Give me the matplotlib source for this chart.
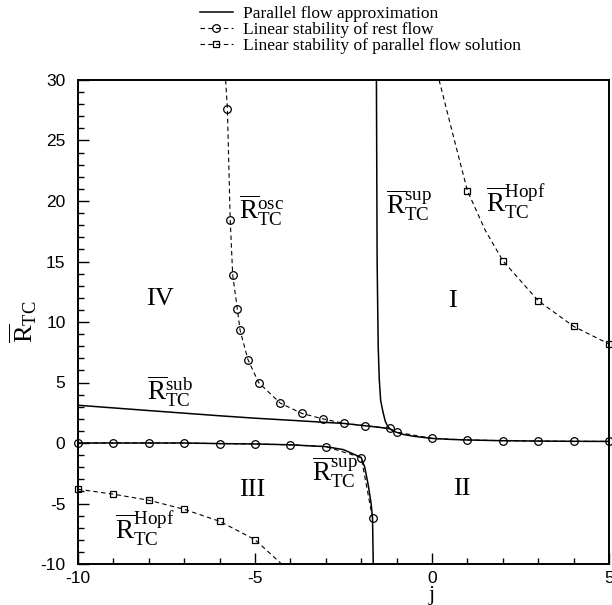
import matplotlib
matplotlib.use("Agg")
import matplotlib.pyplot as plt
from matplotlib.lines import Line2D
from matplotlib.legend_handler import HandlerLine2D
from matplotlib.ticker import MultipleLocator

plt.rcParams['mathtext.fontset'] = 'custom'
plt.rcParams['mathtext.rm'] = 'Liberation Serif'
plt.rcParams['mathtext.it'] = 'Liberation Serif:italic'
plt.rcParams['axes.unicode_minus'] = False

# parallel flow approximation (solid)
sub_j = [-10, -8, -6, -5, -4, -3, -2.5, -2, -1.5, -1.2]
sub_R = [3.12, 2.68, 2.25, 2.05, 1.88, 1.70, 1.62, 1.46, 1.30, 1.18]

sup_up_j = [-1.57, -1.55, -1.52, -1.49, -1.45, -1.38, -1.32, -1.26, -1.2, -1.1, -1.0,
            -0.8, -0.5, 0, 0.5, 1, 2, 3, 4, 5]
sup_up_R = [30, 15, 8, 5.3, 3.5, 2.5, 1.8, 1.43, 1.2, 1.0, 0.88,
            0.7, 0.55, 0.38, 0.3, 0.25, 0.19, 0.16, 0.14, 0.13]

sup_lo_j = [-10, -9, -8, -7, -6, -5, -4, -3, -2.5, -2, -1.9, -1.8, -1.72, -1.68, -1.66]
sup_lo_R = [0, 0, 0, 0, -0.05, -0.08, -0.15, -0.3, -0.55, -1.2, -2.0, -3.5, -5.0, -6.2, -10]

# linear stability of rest flow (circles)
osc_line_j = [-5.83]
osc_line_R = [30]
osc_j = [-5.78, -5.70, -5.63, -5.50, -5.42, -5.20, -4.90, -4.29, -3.68, -3.09,
         -2.50, -1.89, -1.20, -1.00, 0, 1, 2, 3, 4, 5]
osc_R = [27.6, 18.4, 13.9, 11.1, 9.3, 6.9, 5.0, 3.3, 2.45, 2.0,
         1.63, 1.43, 1.2, 0.9, 0.38, 0.25, 0.19, 0.16, 0.14, 0.13]

rest_lo_j = [-10, -9, -8, -7, -6, -5, -4, -3, -2, -1.68]
rest_lo_R = [0, 0, 0, 0, -0.05, -0.08, -0.15, -0.3, -1.2, -6.2]

# linear stability of parallel flow solution (squares)
hopf_up_line_j = [0.2, 0.6, 1, 1.5, 2, 3, 4, 5]
hopf_up_line_R = [30, 25.4, 20.85, 17.6, 15.07, 11.76, 9.64, 8.18]
hopf_up_j = [1, 2, 3, 4, 5]
hopf_up_R = [20.85, 15.07, 11.76, 9.64, 8.18]

hopf_lo_j = [-10, -9, -8, -7, -6, -5]
hopf_lo_R = [-3.82, -4.23, -4.73, -5.48, -6.47, -7.99]
hopf_lo_end_j = [-4.25]
hopf_lo_end_R = [-10]

dash = (0, (4, 3))
serif = 'Liberation Serif'

fig = plt.figure(figsize=(6.12, 6.05), dpi=100)
ax = fig.add_axes([78 / 612, 1 - 564 / 605, 531 / 612, 484 / 605])

ax.plot(sub_j, sub_R, 'k-', lw=1.1)
ax.plot(sup_up_j, sup_up_R, 'k-', lw=1.1)
ax.plot(sup_lo_j, sup_lo_R, 'k-', lw=1.1)

ax.plot(osc_line_j + osc_j, osc_line_R + osc_R, color='k', ls=dash, lw=0.8)
ax.plot(osc_j, osc_R, 'o', color='k', mfc='none', ms=5.5, mew=0.9, clip_on=False)
ax.plot(rest_lo_j, rest_lo_R, color='k', ls=dash, lw=0.8)
ax.plot(rest_lo_j, rest_lo_R, 'o', color='k', mfc='none', ms=5.5, mew=0.9, clip_on=False)

ax.plot(hopf_up_line_j, hopf_up_line_R, color='k', ls=dash, lw=0.8)
ax.plot(hopf_up_j, hopf_up_R, 's', color='k', mfc='none', ms=5, mew=0.9, clip_on=False)
ax.plot(hopf_lo_j + hopf_lo_end_j, hopf_lo_R + hopf_lo_end_R, color='k', ls=dash, lw=0.8)
ax.plot(hopf_lo_j, hopf_lo_R, 's', color='k', mfc='none', ms=5, mew=0.9, clip_on=False)

ax.set_xlim(-10, 5)
ax.set_ylim(-10, 30)
ax.xaxis.set_major_locator(MultipleLocator(5))
ax.xaxis.set_minor_locator(MultipleLocator(1))
ax.yaxis.set_major_locator(MultipleLocator(5))
ax.yaxis.set_minor_locator(MultipleLocator(1))
ax.tick_params(which='both', direction='in', top=False, right=False,
               labelsize=12.5, width=1)
ax.tick_params(which='major', length=8)
ax.tick_params(which='minor', length=4)
ax.tick_params(axis='y', which='major', pad=9)
ax.tick_params(axis='x', which='major', pad=5)
for lab in ax.get_xticklabels() + ax.get_yticklabels():
    lab.set_family('Liberation Sans')
for s in ax.spines.values():
    s.set_linewidth(1.4)

ax.set_xlabel('j', fontsize=16, family=serif)
ax.xaxis.set_label_coords(0.667, -0.045)
ax.set_ylabel(r'$\overline{\mathrm{R}}_{\mathrm{TC}}$', fontsize=19)
ax.yaxis.set_label_coords(-0.072, 0.5)

lab_kw = dict(fontsize=19.5, ha='left', va='baseline')
ax.text(-5.45, 18.5, r'$\overline{\mathrm{R}}_{\mathrm{TC}}^{\mathrm{osc}}$', **lab_kw)
ax.text(-1.30, 18.9, r'$\overline{\mathrm{R}}_{\mathrm{TC}}^{\mathrm{sup}}$', **lab_kw)
ax.text(1.53, 19.1, r'$\overline{\mathrm{R}}_{\mathrm{TC}}^{\mathrm{Hopf}}$', **lab_kw)
ax.text(-8.05, 3.5, r'$\overline{\mathrm{R}}_{\mathrm{TC}}^{\mathrm{sub}}$', **lab_kw)
ax.text(-3.39, -3.2, r'$\overline{\mathrm{R}}_{\mathrm{TC}}^{\mathrm{sup}}$', **lab_kw)
ax.text(-8.95, -7.9, r'$\overline{\mathrm{R}}_{\mathrm{TC}}^{\mathrm{Hopf}}$', **lab_kw)

reg_kw = dict(fontsize=19, family=serif, ha='center', va='center')
ax.text(0.57, 11.7, 'I', **reg_kw)
ax.text(0.85, -3.8, 'II', **reg_kw)
ax.text(-5.08, -3.9, 'III', **reg_kw)
ax.text(-7.68, 11.9, 'IV', **reg_kw)


class LeftMarker(HandlerLine2D):
    def get_xdata(self, legend, xdescent, ydescent, width, height, fontsize):
        return [-xdescent, -xdescent + width], [-xdescent]


h1 = Line2D([], [], color='k', lw=1.1)
h2 = Line2D([], [], color='k', ls=dash, lw=0.8, marker='o', mfc='none', ms=5.5, mew=0.9)
h3 = Line2D([], [], color='k', ls=dash, lw=0.8, marker='s', mfc='none', ms=5, mew=0.9)
fig.legend([h1, h2, h3],
           ['Parallel flow approximation', 'Linear stability of rest flow',
            'Linear stability of parallel flow solution'],
           loc='upper left', bbox_to_anchor=(200 / 612, 1 - 6 / 605),
           frameon=False, borderpad=0, borderaxespad=0, labelspacing=0.0,
           handlelength=1.9, handletextpad=0.55, prop={'family': serif, 'size': 12.5},
           handler_map={h2: LeftMarker(), h3: LeftMarker()})

fig.savefig('out.png', dpi=100)
